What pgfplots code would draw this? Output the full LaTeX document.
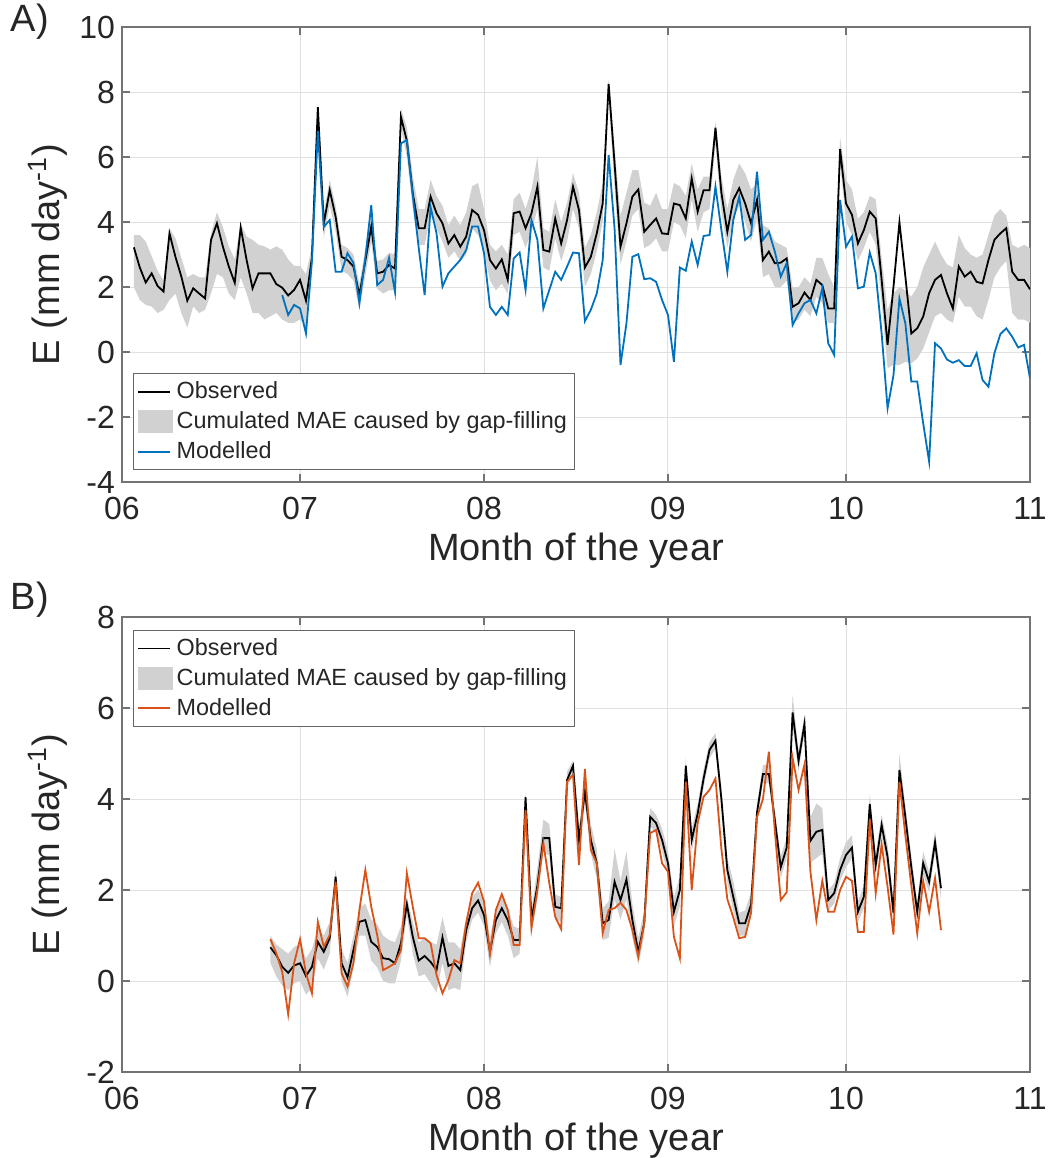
\documentclass[border=0pt]{standalone}
\usepackage{fontspec}
\setmainfont{Liberation Sans}
\usepackage{pgfplots}
\pgfplotsset{compat=1.18}
\usepackage{pgfplotstable}
\definecolor{mblue}{rgb}{0,0.447,0.741}
\definecolor{morange}{rgb}{0.85,0.325,0.098}
\definecolor{band}{rgb}{0.82,0.82,0.82}

\pgfplotstableread{
d o
2 3.22
3 2.60
4 2.14
5 2.42
6 2.03
7 1.86
8 3.65
9 2.93
10 2.32
11 1.58
12 1.96
13 1.80
14 1.65
15 3.45
16 3.96
17 3.24
18 2.63
19 2.13
20 3.83
21 2.83
22 1.96
23 2.42
24 2.42
25 2.42
26 2.09
27 1.98
28 1.74
29 1.91
30 2.22
31 1.58
32 2.90
33 7.53
34 3.95
35 4.98
36 4.16
37 2.93
38 2.83
39 2.63
40 1.75
41 2.80
42 3.86
43 2.42
44 2.47
45 2.68
46 2.57
47 7.24
48 6.50
49 4.88
50 3.81
51 3.81
52 4.78
53 4.27
54 3.96
55 3.34
56 3.60
57 3.24
58 3.55
59 4.37
60 4.22
61 3.75
62 2.83
63 2.57
64 2.85
65 2.22
66 4.27
67 4.32
68 3.81
69 4.27
70 5.09
71 3.14
72 3.09
73 4.11
74 3.34
75 4.06
76 5.09
77 4.37
78 2.60
79 2.93
80 3.65
81 4.57
82 8.25
83 5.80
84 3.24
85 3.96
86 4.78
87 5.00
88 3.70
89 3.91
90 4.11
91 3.65
92 3.63
93 4.57
94 4.52
95 4.11
96 5.34
97 4.32
98 4.98
99 4.98
100 6.90
101 4.90
102 3.70
103 4.68
104 5.04
105 4.57
106 3.96
107 4.68
108 2.83
109 3.09
110 2.73
111 2.75
112 2.88
113 1.39
114 1.50
115 1.83
116 1.60
117 2.22
118 2.06
119 1.34
120 1.34
121 6.24
122 4.57
123 4.22
124 3.34
125 3.75
126 4.32
127 4.11
128 2.22
129 0.22
130 2.01
131 3.99
132 2.32
133 0.57
134 0.73
135 1.09
136 1.81
137 2.22
138 2.37
139 1.81
140 1.34
141 2.63
142 2.32
143 2.47
144 2.16
145 2.11
146 2.83
147 3.45
148 3.65
149 3.81
150 2.47
151 2.22
152 2.22
153 1.93
}\obsA

% band A: upper edge forward, lower edge backward
\pgfplotstableread{
d y
2 3.6
3 3.6
4 3.4
5 2.95
6 2.5
7 2.2
8 3.8
9 3.5
10 2.9
11 2.3
12 2.4
13 2.3
14 2.3
15 3.65
16 4.3
17 3.85
18 3.25
19 2.85
20 3.95
21 3.55
22 3.45
23 3.3
24 3.25
25 3.15
26 3.25
27 3.15
28 2.85
29 2.65
30 2.65
31 2.4
32 3.25
33 7.7
34 4.3
35 5.3
36 4.5
37 3.3
38 3.2
39 3.0
40 2.1
41 3.15
42 4.2
43 2.8
44 2.85
45 3.05
46 3.0
47 7.5
48 6.9
49 5.4
50 4.4
51 4.4
52 5.3
53 4.8
54 4.5
55 3.9
56 4.2
57 3.9
58 4.3
59 5.1
60 5.2
61 4.4
62 3.3
63 3.1
64 3.3
65 3.0
66 4.7
67 4.9
68 4.4
69 5.0
70 6.0
71 3.8
72 3.7
73 4.7
74 4.0
75 4.6
76 5.5
77 4.9
78 3.2
79 3.6
80 4.3
81 5.2
82 8.4
83 6.3
84 4.2
85 4.9
86 5.6
87 5.6
88 4.6
89 4.5
90 4.9
91 4.4
92 4.4
93 5.2
94 5.1
95 4.8
96 5.8
97 5.0
98 5.4
99 5.4
100 7.1
101 5.4
102 4.4
103 5.3
104 5.8
105 5.5
106 5.0
107 5.2
108 3.9
109 3.8
110 3.4
111 3.3
112 3.2
113 2.0
114 2.0
115 2.3
116 2.1
117 2.9
118 2.9
119 2.4
120 2.0
121 6.6
122 5.3
123 5.0
124 4.1
125 4.3
126 4.8
127 4.7
128 2.9
129 1.3
130 1.8
131 2.0
132 1.9
133 1.7
134 2.0
135 2.6
136 3.0
137 3.4
138 3.0
139 2.7
140 2.6
141 3.6
142 3.2
143 3.0
144 2.9
145 3.0
146 3.6
147 4.2
148 4.4
149 4.2
150 3.3
151 3.2
152 3.3
153 3.2
153 0.9
152 1.0
151 1.0
150 1.2
149 2.8
148 2.6
147 2.3
146 1.6
145 1.0
144 1.1
143 1.4
142 1.4
141 1.7
140 0.9
139 1.0
138 1.2
137 1.1
136 0.6
135 0.1
134 -0.2
133 -0.35
132 -0.3
131 -0.4
130 -0.4
129 -0.5
128 1.5
127 3.3
126 3.7
125 3.2
124 2.8
123 3.6
122 4.0
121 5.8
120 0.9
119 0.9
118 1.5
117 1.7
116 1.1
115 1.3
114 1.0
113 0.9
112 2.2
111 2.0
110 2.0
109 2.4
108 2.3
107 4.1
106 3.4
105 4.0
104 4.5
103 4.1
102 3.2
101 4.3
100 6.4
99 4.4
98 4.3
97 3.7
96 4.7
95 3.5
94 3.9
93 4.0
92 3.1
91 3.1
90 3.5
89 3.3
88 3.2
87 4.4
86 4.2
85 3.4
84 2.7
83 5.0
82 7.9
81 4.0
80 3.1
79 2.4
78 2.0
77 3.8
76 4.4
75 3.4
74 2.8
73 3.5
72 2.5
71 2.6
70 4.4
69 3.7
68 3.2
67 3.7
66 3.6
65 1.8
64 2.1
63 1.9
62 2.2
61 3.1
60 3.6
59 3.8
58 3.0
57 2.8
56 3.1
55 2.9
54 3.4
53 3.8
52 4.2
51 3.3
50 3.3
49 4.4
48 6.0
47 6.9
46 1.9
45 1.9
44 1.8
43 1.95
42 3.4
41 2.35
40 1.3
39 2.2
38 2.4
37 2.5
36 3.7
35 4.5
34 3.5
33 7.1
32 2.45
31 0.8
30 1.0
29 0.9
28 0.9
27 1.0
26 1.2
25 1.1
24 1.0
23 1.2
22 1.2
21 1.8
20 2.3
19 1.6
18 1.8
17 2.3
16 2.4
15 1.8
14 1.3
13 1.2
12 1.4
11 0.75
10 1.2
9 1.8
8 1.6
7 1.3
6 1.2
5 1.4
4 1.45
3 1.6
2 2.0
}\bandA

\pgfplotstableread{
d m
27 1.75
28 1.14
29 1.45
30 1.34
31 0.57
32 2.80
33 6.80
34 3.85
35 4.06
36 2.47
37 2.47
38 3.04
39 2.74
40 1.50
41 2.90
42 4.52
43 2.06
44 2.22
45 2.90
46 1.85
47 6.42
48 6.52
49 4.80
50 3.20
51 1.75
52 4.46
53 3.65
54 2.01
55 2.42
56 2.63
57 2.83
58 3.14
59 3.86
60 3.86
61 3.04
62 1.39
63 1.14
64 1.39
65 1.14
66 2.88
67 3.06
68 1.91
69 4.06
70 3.45
71 1.34
72 1.91
73 2.47
74 2.22
75 2.63
76 3.06
77 3.04
78 0.95
79 1.30
80 1.80
81 2.83
82 6.06
83 3.80
84 -0.40
85 0.88
86 2.93
87 3.01
88 2.24
89 2.27
90 2.16
91 1.60
92 1.14
93 -0.30
94 2.60
95 2.50
96 3.40
97 2.68
98 3.57
99 3.60
100 5.09
101 3.75
102 2.47
103 4.06
104 4.78
105 3.45
106 3.60
107 5.55
108 3.45
109 3.70
110 3.09
111 2.32
112 2.73
113 0.83
114 1.19
115 1.50
116 1.60
117 1.19
118 1.96
119 0.27
120 -0.09
121 4.68
122 3.24
123 3.55
124 1.96
125 2.01
126 3.06
127 2.42
128 0.57
129 -1.73
130 -0.71
131 1.65
132 0.88
133 -0.91
134 -0.91
135 -2.19
136 -3.37
137 0.27
138 0.11
139 -0.23
140 -0.33
141 -0.25
142 -0.43
143 -0.43
144 -0.04
145 -0.86
146 -1.07
147 -0.04
148 0.55
149 0.73
150 0.47
151 0.14
152 0.22
153 -0.81
}\modA

\pgfplotstableread{
d o m
25 0.74 0.92
26 0.57 0.61
27 0.31 0.20
28 0.18 -0.73
29 0.34 0.39
30 0.39 0.92
31 0.11 0.17
32 0.31 -0.27
33 0.86 1.30
34 0.64 0.75
35 0.94 1.01
36 2.29 2.18
37 0.39 0.17
38 0.08 -0.12
39 0.68 0.39
40 1.30 1.56
41 1.34 2.44
42 0.86 1.63
43 0.75 1.01
44 0.50 0.24
45 0.48 0.31
46 0.39 0.39
47 0.83 0.68
48 1.69 2.37
49 0.97 1.63
50 0.45 0.94
51 0.55 0.94
52 0.42 0.83
53 0.24 0.13
54 0.96 -0.27
55 0.33 0.02
56 0.39 0.46
57 0.24 0.39
58 1.12 1.27
59 1.60 1.93
60 1.77 2.16
61 1.45 1.75
62 0.64 0.60
63 1.34 1.56
64 1.60 1.91
65 1.34 1.56
66 0.90 0.79
67 0.90 0.79
68 4.04 3.76
69 1.34 1.16
70 2.10 2.00
71 3.14 3.03
72 3.14 2.15
73 1.63 1.41
74 1.60 1.14
75 4.42 4.38
76 4.73 4.53
77 3.10 2.55
78 4.16 4.66
79 3.10 2.88
80 2.59 2.59
81 1.27 1.05
82 1.34 1.56
83 2.18 1.60
84 1.78 1.72
85 2.23 1.56
86 1.34 1.12
87 0.64 0.53
88 1.27 1.27
89 3.61 3.25
90 3.47 3.32
91 3.10 2.59
92 2.59 2.40
93 1.52 0.97
94 2.00 0.50
95 4.73 4.38
96 3.10 2.00
97 3.68 3.47
98 4.45 4.05
99 5.08 4.20
100 5.28 4.45
101 4.00 2.90
102 2.44 1.80
103 1.85 1.40
104 1.27 0.94
105 1.27 0.97
106 1.68 1.50
107 3.70 3.60
108 4.55 4.00
109 4.55 5.04
110 3.54 3.30
111 2.50 1.78
112 2.93 1.95
113 5.90 4.90
114 4.84 4.20
115 5.65 4.76
116 3.08 2.40
117 3.28 1.34
118 3.32 2.20
119 1.78 1.52
120 1.93 1.52
121 2.44 2.00
122 2.77 2.29
123 2.93 2.20
124 1.52 1.08
125 1.85 1.08
126 3.89 3.55
127 2.55 1.93
128 3.43 3.00
129 2.73 2.07
130 1.50 1.02
131 4.64 4.38
132 3.60 3.20
133 2.50 2.10
134 1.52 1.05
135 2.59 2.20
136 2.18 1.52
137 3.05 2.26
138 2.04 1.12
}\dataB

% band B: upper edge forward, lower edge backward
\pgfplotstableread{
d y
25 1.0
26 0.8
27 0.7
28 0.6
29 0.75
30 0.8
31 0.5
32 0.7
33 1.15
34 1.0
35 1.3
36 2.45
37 0.7
38 0.4
39 1.0
40 1.6
41 1.7
42 1.35
43 1.25
44 1.0
45 0.9
46 0.85
47 1.2
48 1.85
49 1.3
50 0.85
51 0.95
52 0.85
53 0.8
54 1.4
55 0.85
56 0.85
57 0.7
58 1.4
59 1.85
60 2.0
61 1.75
62 0.95
63 1.6
64 1.85
65 1.6
66 1.2
67 1.15
68 4.15
69 1.55
70 2.5
71 3.55
72 3.45
73 1.9
74 1.85
75 4.6
76 4.85
77 3.4
78 4.35
79 3.45
80 2.9
81 1.6
82 1.75
83 2.9
84 2.2
85 2.85
86 1.7
87 0.95
88 1.55
89 3.8
90 3.65
91 3.35
92 2.85
93 1.85
94 2.3
95 4.9
96 3.35
97 3.9
98 4.65
99 5.25
100 5.45
101 4.25
102 2.7
103 2.2
104 1.5
105 1.55
106 1.95
107 3.9
108 4.75
109 4.75
110 3.75
111 2.75
112 3.15
113 6.3
114 5.05
115 5.85
116 3.6
117 3.9
118 3.8
119 2.0
120 2.15
121 2.7
122 3.05
123 3.2
124 1.75
125 2.1
126 4.1
127 2.8
128 3.65
129 3.0
130 1.75
131 5.0
132 3.85
133 2.75
134 1.75
135 2.85
136 2.4
137 3.3
138 2.3
138 1.8
137 2.8
136 1.95
135 2.35
134 1.3
133 2.25
132 3.35
131 4.3
130 1.25
129 2.45
128 3.2
127 2.3
126 3.65
125 1.6
124 1.3
123 2.7
122 2.5
121 2.2
120 1.7
119 1.55
118 2.8
117 2.7
116 2.6
115 5.45
114 4.6
113 5.6
112 2.7
111 2.25
110 3.3
109 4.35
108 4.35
107 3.5
106 1.4
105 1.0
104 1.0
103 1.55
102 2.15
101 3.75
100 5.1
99 4.9
98 4.25
97 3.45
96 2.85
95 4.5
94 1.65
93 1.2
92 2.3
91 2.85
90 3.25
89 3.4
88 1.0
87 0.35
86 0.95
85 1.8
84 1.35
83 1.8
82 0.95
81 0.9
80 2.25
79 2.8
78 3.9
77 2.8
76 4.55
75 4.25
74 1.3
73 1.35
72 2.75
71 2.85
70 1.8
69 1.1
68 3.85
67 0.6
66 0.5
65 1.0
64 1.3
63 1.05
62 0.3
61 1.2
60 1.5
59 1.35
58 0.85
57 -0.2
56 -0.15
55 -0.2
54 0.4
53 -0.25
52 -0.05
51 0.15
50 0.1
49 0.6
48 1.45
47 0.45
46 -0.05
45 -0.05
44 0.0
43 0.3
42 0.45
41 1.0
40 1.0
39 0.3
38 -0.35
37 0.0
36 2.1
35 0.6
34 0.25
33 0.5
32 -0.15
31 -0.3
30 0.0
29 -0.05
28 -0.2
27 -0.1
26 0.1
25 0.4
}\bandB

\pgfplotsset{
  myaxis/.style={
    scale only axis, width=454pt, height=227.5pt,
    xmin=0, xmax=153,
    xtick={0,30,61,92,122,153},
    xticklabels={06,07,08,09,10,11},
    tick align=inside, major tick length=4pt,
    grid=major, grid style={black!12, line width=0.5pt},
    axis line style={black!55, line width=0.6pt},
    every tick/.style={black!55, line width=0.6pt},
    tick label style={font=\fontsize{16}{18}\selectfont, text=black!85},
    xticklabel style={yshift=-4pt},
    /pgf/number format/assume math mode=true,
    xlabel={Month of the year},
    ylabel={E (mm day\textsuperscript{-1})},
    label style={font=\fontsize{19}{22}\selectfont, text=black!85},
    xlabel style={at={(axis description cs:0.5,-0.152)}, anchor=center},
    ylabel style={at={(axis description cs:-0.0815,0.5)}, anchor=center},
    legend cell align=left,
    legend style={font=\fontsize{11.7}{14}\selectfont, draw=black!60, fill=white,
      inner sep=2pt, row sep=1pt, text=black!85},
    legend image code/.code={\draw[##1] (0pt,0pt) -- (16pt,0pt);},
  }
}

\begin{document}
\begin{tikzpicture}
\useasboundingbox (-61pt,-565.5pt) rectangle (463.5pt,13.5pt);
\begin{axis}[myaxis, name=A, at={(0,0)}, anchor=north west,
  ymin=-4, ymax=10, ytick={-4,-2,0,2,4,6,8,10},
  legend style={at={(axis description cs:0.0121,0.0264)}, anchor=south west}]
  \addlegendimage{black, line width=0.9pt}
  \addlegendentry{Observed}
  \addlegendimage{legend image code/.code={\fill[band] (0pt,-5.5pt) rectangle (17pt,5.5pt);}}
  \addlegendentry{Cumulated MAE caused by gap-filling}
  \addlegendimage{mblue, line width=0.9pt}
  \addlegendentry{Modelled}
  \addplot[fill=band, draw=none, forget plot] table[x=d, y=y] {\bandA};
  \addplot[black, line width=0.9pt, forget plot] table[x=d, y=o] {\obsA};
  \addplot[mblue, line width=0.9pt, forget plot] table[x=d, y=m] {\modA};
\end{axis}
\node[font=\fontsize{19}{22}\selectfont, text=black!85] at ([xshift=-46pt,yshift=2.5pt]A.north west) {A)};

\begin{axis}[myaxis, name=B, at={(0,-295pt)}, anchor=north west,
  ymin=-2, ymax=8, ytick={-2,0,2,4,6,8},
  legend style={at={(axis description cs:0.0121,0.9714)}, anchor=north west}]
  \addlegendimage{black, line width=0.9pt}
  \addlegendentry{Observed}
  \addlegendimage{legend image code/.code={\fill[band] (0pt,-5.5pt) rectangle (17pt,5.5pt);}}
  \addlegendentry{Cumulated MAE caused by gap-filling}
  \addlegendimage{morange, line width=0.9pt}
  \addlegendentry{Modelled}
  \addplot[fill=band, draw=none, forget plot] table[x=d, y=y] {\bandB};
  \addplot[black, line width=0.9pt, forget plot] table[x=d, y=o] {\dataB};
  \addplot[morange, line width=0.9pt, forget plot] table[x=d, y=m] {\dataB};
\end{axis}
\node[font=\fontsize{19}{22}\selectfont, text=black!85] at ([xshift=-46pt,yshift=8.5pt]B.north west) {B)};
\end{tikzpicture}
\end{document}
